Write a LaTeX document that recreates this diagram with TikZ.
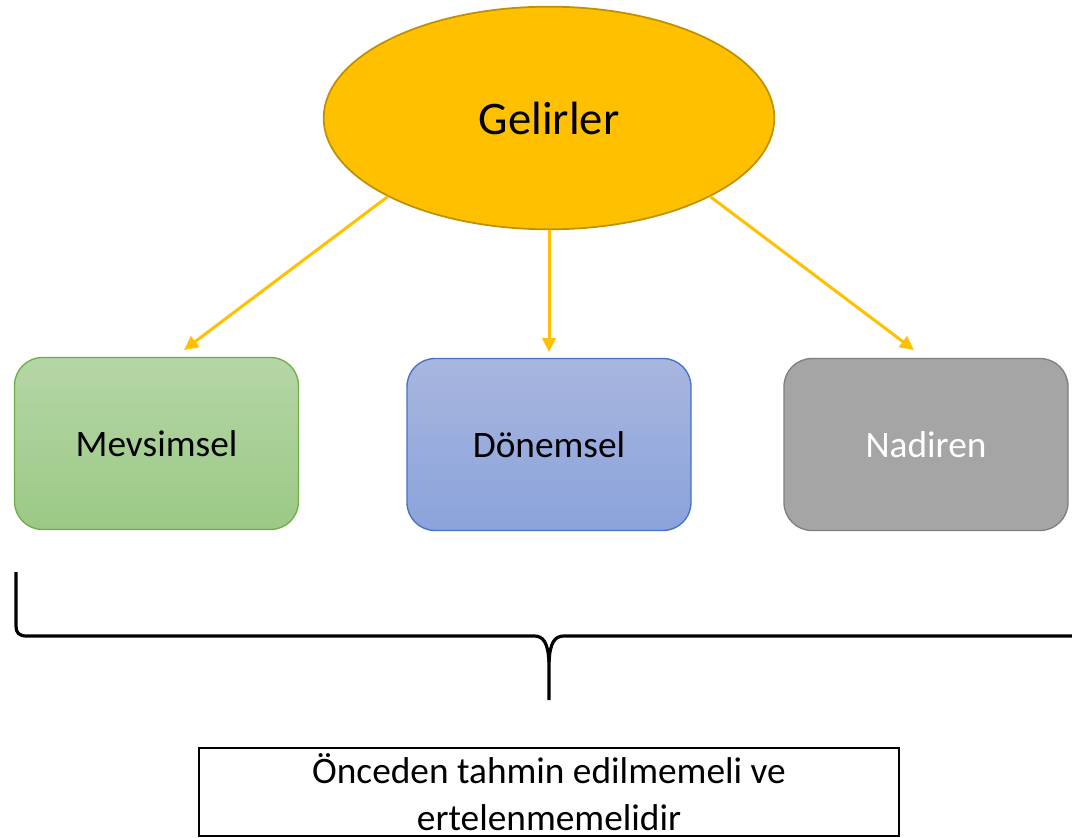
\documentclass[tikz,border=0pt]{standalone}
\usepackage{fontspec}
\setmainfont{Carlito}
\usetikzlibrary{arrows.meta,shapes.geometric}
\definecolor{gold}{HTML}{FFC000}
\definecolor{golddark}{HTML}{BF9000}
\definecolor{greentop}{HTML}{B5D6A6}
\definecolor{greenbot}{HTML}{9BC985}
\definecolor{greenline}{HTML}{70AD47}
\definecolor{bluetop}{HTML}{A8B6DF}
\definecolor{bluebot}{HTML}{8AA3DB}
\definecolor{blueline}{HTML}{4472C4}
\definecolor{grayfill}{HTML}{A5A5A5}
\definecolor{grayline}{HTML}{7F7F7F}
\tikzset{
  catbox/.style={rectangle, rounded corners=21pt, minimum width=213pt, minimum height=129pt,
    line width=1pt, font=\fontsize{28}{33}\selectfont, inner sep=0pt},
  arr/.style={draw=gold, line width=2.25pt, -{Triangle[length=10.5pt,width=10pt]}},
  bracestyle/.style={draw=black, line width=2.4pt},
}
\begin{document}
\begin{tikzpicture}[x=0.75pt,y=-0.75pt]
\useasboundingbox (0,0) rectangle (1072,838);
\fill[white] (0,0) rectangle (1072,838);

\node[ellipse, fill=gold, draw=golddark, line width=1.3pt, minimum width=338pt, minimum height=167pt,
  font=\fontsize{35}{42}\selectfont, inner sep=0pt] (g) at (549,118) {Gelirler};

\node[catbox, top color=greentop, bottom color=greenbot, draw=greenline] (m) at (156.5,443.5) {Mevsimsel};
\node[catbox, top color=bluetop, bottom color=bluebot, draw=blueline] (d) at (549,444.5) {Dönemsel};
\node[catbox, fill=grayfill, draw=grayline, text=white] (n) at (926,444.5) {Nadiren};

\coordinate (mend) at (184,350);
\coordinate (dend) at (549,352);
\coordinate (nend) at (914,350);
\draw[arr] (g.206) -- (mend);
\draw[arr] (g.south) -- (dend);
\draw[arr] (g.334) -- (nend);

% brace
\draw[bracestyle] (16,572) -- (16,626) .. controls (16,633) and (19,636) .. (27,636) -- (534,636)
  .. controls (543,636) and (548,642) .. (549,662) -- (549,700);
\draw[bracestyle] (549,662) .. controls (550,642) and (555,636) .. (564,636) -- (1076,636);

\node[rectangle, draw=black, line width=1.5pt, fill=white, minimum width=525pt, minimum height=66pt, inner sep=0pt] (note) at (549,792) {};
\node[align=center, font=\fontsize{28}{35}\selectfont, inner sep=0pt] (notetext) at (549,792)
  {Önceden tahmin edilmemeli ve\\ertelenmemelidir};
\end{tikzpicture}
\end{document}
